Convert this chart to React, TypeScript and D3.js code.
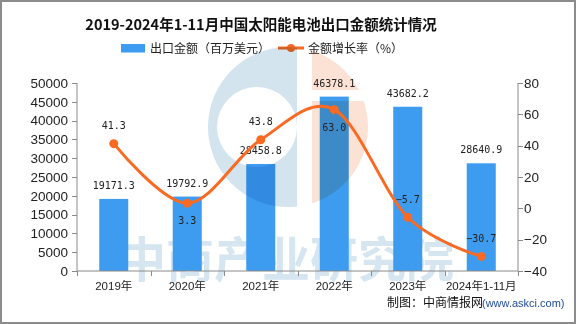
import React from 'react';
import * as d3 from 'd3';

const categories = ['2019年', '2020年', '2021年', '2022年', '2023年', '2024年1-11月'];
const exportValues = [19171.3, 19792.9, 28458.8, 46378.1, 43682.2, 28640.9];
const growthRates = [41.3, 3.3, 43.8, 63.0, -5.7, -30.7];
const growthLabelBelow = [false, true, false, true, false, false];
const leftTicks = [0, 5000, 10000, 15000, 20000, 25000, 30000, 35000, 40000, 45000, 50000];
const rightTicks = [-40, -20, 0, 20, 40, 60, 80];

const W = 576, H = 324;
const L = 77, R = 518, T = 83, B = 271;
const BLUE = '#3d9cf0';
const ORANGE = '#fa6a22';
const AXIS = '#8a8a8a';
const NUMFONT = '"DejaVu Sans Mono", "Liberation Mono", monospace';
const TICKFONT = '"Liberation Sans", "Noto Sans CJK SC", sans-serif';
const CJK = '"Noto Sans CJK SC", sans-serif';

export default function App() {
  const x = d3.scaleBand<string>().domain(categories).range([L, R]).paddingInner(0).paddingOuter(0);
  const yL = d3.scaleLinear().domain([0, 50000]).range([B, T]);
  const yR = d3.scaleLinear().domain([-40, 80]).range([B, T]);
  const bw = x.bandwidth() * 0.395;
  const cx = (c: string) => (x(c) as number) + x.bandwidth() / 2;

  const pts: [number, number][] = categories.map((c, i) => [cx(c), yR(growthRates[i])]);
  const linePath = d3.line().curve(d3.curveCardinal.tension(0))(pts) as string;

  const fmtR = d3.format('d');
  const minus = (s: string) => s.replace('-', '−');

  // logo geometry
  const lc = { x: 288, y: 127, r: 80 };
  const ic = { x: 257, y: 127, r: 40 };
  const circ = (c: { x: number; y: number; r: number }) =>
    `M${c.x - c.r},${c.y}a${c.r},${c.r} 0 1,0 ${2 * c.r},0a${c.r},${c.r} 0 1,0 ${-2 * c.r},0Z`;

  const boundaries = d3.range(categories.length + 1).map((i) => L + i * x.bandwidth());

  return (
    <svg width={W} height={H} style={{ position: 'absolute', left: 0, top: 0, display: 'block', background: '#fff' }}>
      <defs>
        <clipPath id="leftPart"><rect x={0} y={0} width={297} height={H} /></clipPath>
        <clipPath id="rightPart">
          <rect x={312} y={0} width={200} height={90} />
          <rect x={312} y={101} width={200} height={200} />
        </clipPath>
      </defs>
      <rect x={1} y={1} width={W - 2} height={H - 2} fill="#fff" stroke="#8c8c8c" strokeWidth={2} />

      {/* title */}
      <text x={261} y={30} textAnchor="middle" fontFamily={CJK} fontWeight={700} fontSize={14.5} fill="#111">
        2019-2024年1-11月中国太阳能电池出口金额统计情况
      </text>

      {/* legend */}
      <rect x={121} y={44} width={24} height={8.5} fill={BLUE} />
      <text x={150} y={53} fontFamily={CJK} fontSize={12} fill="#222">出口金额（百万美元）</text>
      <line x1={278} x2={304} y1={48} y2={48} stroke={ORANGE} strokeWidth={3} />
      <circle cx={291} cy={48} r={4} fill={ORANGE} />
      <text x={308} y={53} fontFamily={CJK} fontSize={12} fill="#222">金额增长率（%）</text>

      {/* watermark text */}
      <text x={118} y={256} dominantBaseline="central" fontFamily={CJK} fontWeight={700} fontSize={48} fill="#d6e6f1">
        中商产业研究院
      </text>

      {/* bars */}
      {categories.map((c, i) => (
        <rect key={c} x={cx(c) - bw / 2} y={yL(exportValues[i])} width={bw} height={B - yL(exportValues[i])} fill={BLUE} />
      ))}

      {/* logo overlay */}
      <g style={{ mixBlendMode: 'multiply' }}>
        <path d={circ(lc) + circ(ic)} fillRule="evenodd" fill="#d3e4ef" clipPath="url(#leftPart)" />
        <path d={circ(lc)} fill="#fce2d5" clipPath="url(#rightPart)" />
      </g>

      {/* axes */}
      <g stroke={AXIS} strokeWidth={1} fill="none">
        <line x1={L} x2={L} y1={T} y2={B} />
        <line x1={R} x2={R} y1={T} y2={B} />
        <line x1={L} x2={R} y1={B} y2={B} />
        {leftTicks.map((t) => (
          <line key={'l' + t} x1={L - 5} x2={L} y1={Math.round(yL(t)) + 0.5} y2={Math.round(yL(t)) + 0.5} />
        ))}
        {rightTicks.map((t) => (
          <line key={'r' + t} x1={R} x2={R + 5} y1={Math.round(yR(t)) + 0.5} y2={Math.round(yR(t)) + 0.5} />
        ))}
        {boundaries.map((b, i) => (
          <line key={'b' + i} x1={Math.round(b) + 0.5} x2={Math.round(b) + 0.5} y1={B} y2={B + 5} />
        ))}
      </g>
      {leftTicks.map((t) => (
        <text key={'lt' + t} x={L - 9} y={yL(t)} dy="0.35em" textAnchor="end" fontFamily={TICKFONT} fontSize={13.5} fill="#222">
          {t}
        </text>
      ))}
      {rightTicks.map((t) => (
        <text key={'rt' + t} x={R + 6} y={yR(t)} dy="0.35em" textAnchor="start" fontFamily={TICKFONT} fontSize={13.5} fill="#222">
          {minus(fmtR(t))}
        </text>
      ))}
      {categories.map((c) => (
        <text key={'xt' + c} x={cx(c)} y={290} textAnchor="middle" fontFamily={TICKFONT} fontSize={11.5} fill="#222">
          {c}
        </text>
      ))}

      {/* bar labels */}
      {categories.map((c, i) => (
        <text key={'bl' + c} x={cx(c)} y={yL(exportValues[i]) - 10} textAnchor="middle" fontFamily={NUMFONT} fontSize={10} fill="#222">
          {exportValues[i].toFixed(1)}
        </text>
      ))}

      {/* line */}
      <path d={linePath} fill="none" stroke={ORANGE} strokeWidth={3} />
      {pts.map((p, i) => (
        <circle key={'pt' + i} cx={p[0]} cy={p[1]} r={4.5} fill={ORANGE} />
      ))}
      {categories.map((c, i) => (
        <text key={'gl' + c} x={cx(c)} y={yR(growthRates[i]) + (growthLabelBelow[i] ? 21 : -14.5)} textAnchor="middle" fontFamily={NUMFONT} fontSize={10} fill="#222">
          {minus(growthRates[i].toFixed(1))}
        </text>
      ))}

      {/* source */}
      <text x={387} y={307} fontFamily={CJK} fontSize={12} fill="#111">制图：中商情报网</text>
      <text x={482} y={307} fontFamily={TICKFONT} fontSize={11} fill="#1f4a9a">(www.askci.com)</text>
    </svg>
  );
}
